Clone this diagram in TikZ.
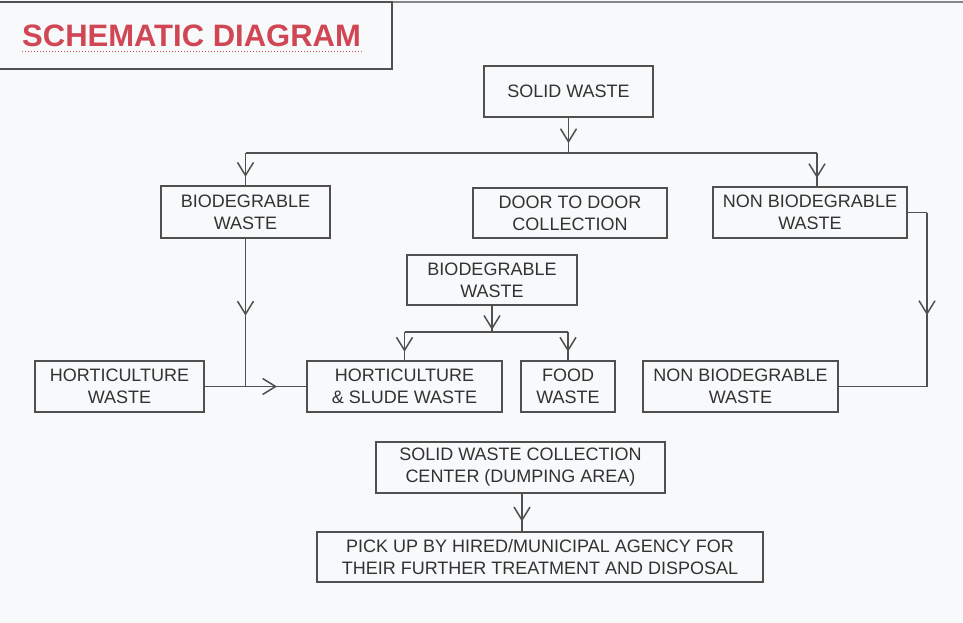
\documentclass[tikz,border=0pt]{standalone}
\usepackage{fontspec}
\setmainfont{Liberation Sans}
\usetikzlibrary{arrows.meta,decorations.markings}
\definecolor{bgc}{RGB}{247,249,250}
\definecolor{linec}{RGB}{80,80,80}
\definecolor{textc}{RGB}{50,50,50}
\definecolor{titlec}{RGB}{208,70,84}
\tikzset{
  box/.style={draw=linec, line width=1.6pt, fill=none, text=textc, align=center,
    font=\fontsize{18}{22}\selectfont, inner sep=0pt},
  conn/.style={draw=linec, line width=1.5pt},
  midarrow/.style={conn, postaction={decorate}, decoration={markings,
    mark=at position #1 with {\arrow{Straight Barb[length=13pt,width=16pt,line width=1.5pt]}}}},
  midarrow/.default=0.6
}
\begin{document}
\begin{tikzpicture}[x=1pt,y=-1pt]
\fill[bgc] (0,0) rectangle (963,623);
\useasboundingbox (0,0) rectangle (963,623);
% page frame line and title box
\draw[linec!70, line width=1.2pt] (0,2) -- (963,2);
\node[draw=linec, line width=1.6pt, minimum width=393pt, minimum height=67pt, inner sep=0pt] (titlebox) at (195.5,35.5) {};
\node[text=titlec, font=\bfseries\fontsize{31}{34}\selectfont, inner sep=0pt, anchor=base west] (title) at (22,46.5) {SCHEMATIC DIAGRAM};
\draw[titlec, line width=1pt, dotted] (22,52) coordinate (ul1) -- (362,52) coordinate (ul2);
% nodes
\node[box, minimum width=169pt, minimum height=51pt] (solid) at (568.5,91.5) {SOLID WASTE};
\node[box, minimum width=169pt, minimum height=52pt] (bio1) at (245.5,212) {BIODEGRABLE\\WASTE};
\node[box, minimum width=194pt, minimum height=50pt] (door) at (570,213) {DOOR TO DOOR\\COLLECTION};
\node[box, minimum width=194pt, minimum height=51pt] (nbw1) at (810,212.5) {NON BIODEGRABLE\\WASTE};
\node[box, minimum width=170pt, minimum height=50pt] (bio2) at (492,280) {BIODEGRABLE\\WASTE};
\node[box, minimum width=169pt, minimum height=51pt] (hort) at (119.5,386.5) {HORTICULTURE\\WASTE};
\node[box, minimum width=195pt, minimum height=51pt] (hs) at (404.5,386.5) {HORTICULTURE\\\& SLUDE WASTE};
\node[box, minimum width=94pt, minimum height=51pt] (food) at (568,386.5) {FOOD\\WASTE};
\node[box, minimum width=195pt, minimum height=51pt] (nbw2) at (740.5,386.5) {NON BIODEGRABLE\\WASTE};
\node[box, minimum width=289pt, minimum height=51pt] (coll) at (520.5,467.5) {SOLID WASTE COLLECTION\\CENTER (DUMPING AREA)};
\node[box, minimum width=446pt, minimum height=50pt] (pick) at (540,557) {PICK UP BY HIRED/MUNICIPAL AGENCY FOR\\THEIR FURTHER TREATMENT AND DISPOSAL};
% coordinates
\coordinate (b1) at (568.5,153);
\coordinate (bl) at (bio1.north |- b1);
\coordinate (br) at (817,153);
\coordinate (br2) at (817,187);
\coordinate (b2) at (bio2.south |- 0,332);
\coordinate (b2l) at (hs.north |- b2);
\coordinate (b2r) at (food.north |- b2);
\coordinate (j) at (bio1.south |- hort.east);
\coordinate (r1) at (927,212.5);
\coordinate (r2) at (927,386.5);
% connectors
\draw[midarrow=0.72] (solid.south) -- (b1);
\draw[conn] (bl) -- (br);
\draw[midarrow=0.74] (bl) -- (bio1.north);
\draw[midarrow=0.74] (br) -- (br2);
\draw[midarrow=0.52] (bio1.south) -- (j);
\draw[conn] (hort.east) -- (j);
\draw[midarrow=0.52] (j) -- (hs.west);
\draw[midarrow=0.92] (bio2.south) -- (b2);
\draw[conn] (b2l) -- (b2r);
\draw[midarrow=0.7] (b2l) -- (hs.north);
\draw[midarrow=0.7] (b2r) -- (food.north);
\draw[conn] (nbw1.east) -- (r1);
\draw[midarrow=0.59] (r1) -- (r2);
\draw[conn] (r2) -- (nbw2.east);
\draw[midarrow=0.74] (coll.south -| 522,0) -- (pick.north -| 522,0);
\end{tikzpicture}
\end{document}
